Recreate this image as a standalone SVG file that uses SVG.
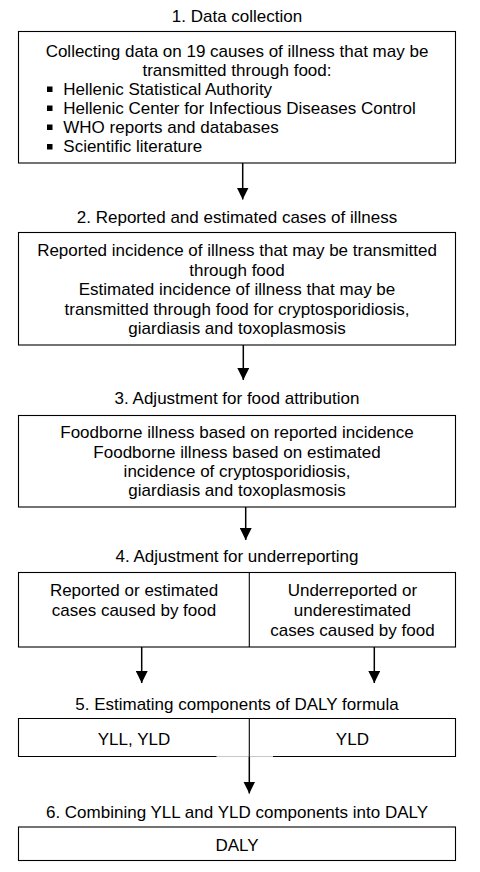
<svg xmlns="http://www.w3.org/2000/svg" width="480" height="872" viewBox="0 0 480 872">
<defs>
<style>
text{font-family:"Liberation Sans",Arial,sans-serif;font-size:17px;fill:#000}
.c{text-anchor:middle}
.box{fill:#fff;stroke:#000;stroke-width:1.1}
.ln{stroke:#000;stroke-width:1.1;fill:none}
.arr{stroke:#000;stroke-width:1.5;fill:none;marker-end:url(#ah)}
.bul{fill:#000}
</style>
<marker id="ah" viewBox="0 0 12 12" refX="12" refY="6" markerWidth="12" markerHeight="12" markerUnits="userSpaceOnUse" orient="auto">
<path d="M0,0 L12,6 L0,12 z" fill="#000"/>
</marker>
</defs>
<rect width="480" height="872" fill="#fff"/>

<g id="step1">
<text class="c" x="237" y="22">1. Data collection</text>
<rect class="box" x="18.5" y="31.5" width="437" height="131.5"/>
<text class="c" x="237" y="56.5">Collecting data on 19 causes of illness that may be</text>
<text class="c" x="237" y="75.5">transmitted through food:</text>
<rect class="bul" x="47" y="86.5" width="5.5" height="5.5"/>
<text x="63.3" y="94.5">Hellenic Statistical Authority</text>
<rect class="bul" x="47" y="105.5" width="5.5" height="5.5"/>
<text x="63.3" y="113.5">Hellenic Center for Infectious Diseases Control</text>
<rect class="bul" x="47" y="124.5" width="5.5" height="5.5"/>
<text x="63.3" y="132.7">WHO reports and databases</text>
<rect class="bul" x="47" y="144" width="5.5" height="5.5"/>
<text x="63.3" y="152">Scientific literature</text>
</g>

<g id="step2">
<text class="c" x="237" y="222.5">2. Reported and estimated cases of illness</text>
<rect class="box" x="18.5" y="232.5" width="437" height="112.5"/>
<text class="c" x="237" y="256">Reported incidence of illness that may be transmitted</text>
<text class="c" x="237" y="275.5">through food</text>
<text class="c" x="237" y="295">Estimated incidence of illness that may be</text>
<text class="c" x="237" y="314.5">transmitted through food for cryptosporidiosis,</text>
<text class="c" x="237" y="334">giardiasis and toxoplasmosis</text>
</g>

<g id="step3">
<text class="c" x="237" y="403.5">3. Adjustment for food attribution</text>
<rect class="box" x="18.5" y="415.5" width="437" height="91.5"/>
<text class="c" x="237" y="438">Foodborne illness based on reported incidence</text>
<text class="c" x="237" y="457.5">Foodborne illness based on estimated</text>
<text class="c" x="237" y="477">incidence of cryptosporidiosis,</text>
<text class="c" x="237" y="496">giardiasis and toxoplasmosis</text>
</g>

<g id="step4">
<text class="c" x="237" y="562">4. Adjustment for underreporting</text>
<rect class="box" x="18.5" y="572.5" width="437" height="74.5"/>
<line class="ln" x1="249.3" y1="572.5" x2="249.3" y2="647"/>
<text class="c" x="134" y="595.5">Reported or estimated</text>
<text class="c" x="134" y="615.5">cases caused by food</text>
<text class="c" x="352.4" y="595.5">Underreported or</text>
<text class="c" x="352.4" y="615.5">underestimated</text>
<text class="c" x="352.4" y="635.5">cases caused by food</text>
</g>

<g id="step5">
<text class="c" x="237" y="709.5">5. Estimating components of DALY formula</text>
<path class="ln" d="M216.7,756.5 H18.5 V718.5 H455.5 V756.5 H272.7"/>
<line x1="216.7" y1="756.5" x2="272.7" y2="756.5" stroke="#c8c8c8" stroke-width="1.1"/>
<line class="ln" x1="249.3" y1="718.5" x2="249.3" y2="756.5"/>
<text class="c" x="134" y="744.5">YLL, YLD</text>
<text class="c" x="352.4" y="744.5">YLD</text>
</g>

<g id="step6">
<text class="c" x="237" y="818">6. Combining YLL and YLD components into DALY</text>
<rect class="box" x="18.5" y="827" width="437" height="33.5"/>
<text class="c" x="237" y="850.5">DALY</text>
</g>

<g id="connectors">
<line class="arr" x1="242.7" y1="163" x2="242.7" y2="199.5"/>
<line class="arr" x1="243.3" y1="345" x2="243.3" y2="380"/>
<line class="arr" x1="245.7" y1="507" x2="245.7" y2="540"/>
<line class="arr" x1="141.7" y1="647" x2="141.7" y2="683"/>
<line class="arr" x1="374.3" y1="647" x2="374.3" y2="683"/>
<line class="arr" x1="249.3" y1="756.5" x2="249.3" y2="793.5"/>
</g>
</svg>
